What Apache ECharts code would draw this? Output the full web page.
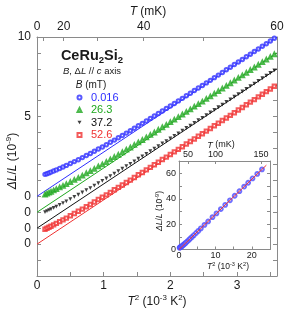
<!DOCTYPE html>
<html><head><meta charset="utf-8">
<script src="https://cdn.jsdelivr.net/npm/echarts@6/dist/echarts.min.js"></script>
<style>html,body{margin:0;padding:0;background:#fff}#c{width:295px;height:314px}</style>
</head><body><div id="c"></div>
<script>
// ---- main plot data: x = T^2 (10^-3 K^2), y = ΔL/L (10^-9), curves offset by 1 each
const T2 = [0.12,0.15,0.18,0.21,0.25,0.29,0.34,0.39,0.44,0.50,0.56,0.62,0.68,0.74,0.80,0.86,0.92,0.98,1.04,1.10,1.16,1.22,1.28,1.34,1.40,1.46,1.52,1.58,1.64,1.70,1.76,1.82,1.88,1.94,2.00,2.06,2.12,2.18,2.24,2.30,2.36,2.42,2.48,2.54,2.60,2.66,2.72,2.78,2.84,2.90,2.96,3.02,3.08,3.14,3.20,3.26,3.32,3.38,3.44,3.50,3.56];
const blueY = [1.38,1.42,1.47,1.52,1.59,1.66,1.75,1.84,1.94,2.06,2.18,2.30,2.43,2.56,2.69,2.83,2.97,3.10,3.24,3.39,3.53,3.68,3.82,3.97,4.12,4.27,4.43,4.58,4.73,4.89,5.04,5.20,5.36,5.52,5.67,5.83,5.99,6.15,6.31,6.47,6.64,6.80,6.96,7.12,7.28,7.45,7.61,7.77,7.94,8.10,8.27,8.43,8.59,8.76,8.92,9.09,9.25,9.42,9.58,9.75,9.92];
const greenY = [0.11,0.17,0.23,0.28,0.37,0.45,0.55,0.65,0.76,0.89,1.03,1.15,1.29,1.44,1.57,1.72,1.87,2.00,2.15,2.31,2.46,2.60,2.76,2.92,3.06,3.22,3.38,3.53,3.69,3.85,4.00,4.17,4.33,4.48,4.65,4.81,4.96,5.13,5.29,5.45,5.62,5.78,5.94,6.11,6.27,6.44,6.60,6.76,6.93,7.09,7.26,7.43,7.58,7.75,7.92,8.08,8.25,8.42,8.58,8.75,8.91];
const blackY = [-0.99,-0.93,-0.87,-0.81,-0.73,-0.64,-0.54,-0.43,-0.32,-0.18,-0.04,0.10,0.24,0.39,0.52,0.67,0.82,0.97,1.12,1.27,1.43,1.58,1.73,1.89,2.04,2.20,2.36,2.51,2.67,2.84,2.99,3.15,3.32,3.47,3.63,3.80,3.95,4.12,4.29,4.44,4.61,4.78,4.93,5.10,5.27,5.43,5.59,5.76,5.93,6.09,6.25,6.42,6.58,6.75,6.92,7.08,7.25,7.41,7.57,7.74,7.91];
const redY = [-2.07,-2.00,-1.94,-1.88,-1.79,-1.70,-1.59,-1.48,-1.37,-1.22,-1.08,-0.94,-0.80,-0.65,-0.51,-0.36,-0.20,-0.06,0.09,0.25,0.41,0.56,0.71,0.87,1.02,1.18,1.35,1.50,1.66,1.82,1.98,2.14,2.31,2.46,2.63,2.79,2.95,3.11,3.28,3.44,3.60,3.77,3.93,4.09,4.26,4.43,4.59,4.76,4.92,5.08,5.25,5.42,5.58,5.75,5.91,6.07,6.24,6.41,6.57,6.74,6.91];
// fit lines (T^2 law)
const fitX = [0, 3.6];
const blueFit = [0, 10.0];
const greenFit = [-1, 9.0];
const blackFit = [-2, 8.0];
const redFit = [-3, 7.0];
const fieldNames = ['0.016','26.3','37.2','52.6'];
// ---- inset data
const insetX = [0.15,0.25,0.4,0.6,0.8,1.0,1.3,1.6,1.9,2.3,2.7,3.1,3.6,4.1,4.7,5.3,6.0,7.0,8.0,9.2,10.3,11.5,12.7,14.0,15.3,16.6,17.9,19.0,20.2,21.5,22.8];
const insetY = [1.42,1.59,1.86,2.26,2.69,3.15,3.87,4.63,5.41,6.47,7.56,8.70,10.0,11.4,13.1,14.7,16.7,19.5,22.2,25.6,28.6,32.0,35.3,38.9,42.5,46.1,49.8,52.8,56.2,59.8,63.4];
const insetFitX = [0, 24];
const insetFitY = [0, 66.7];
// ---- tick labels
const mainBottomLabels = [0,1,2,3];
const mainBottomTicks = [0,0.5,1,1.5,2,2.5,3,3.5];
const mainTopTickT = [0,10,20,30,40,50,60];
const mainTopLabelT = [0,20,40,60];
const mainLeftLabelVals = [10,5,0,-1,-2,-3];
const mainLeftLabelText = ['10','5','0','0','0','0'];
const insetBottomLabels = [0,10,20];
const insetLeftLabels = [0,20,40,60];
const insetTopT = [50,100,150];

const FONT = '"Liberation Sans", Arial, sans-serif';
const AX = '#8a8a8a', TXT = '#1a1a1a';
const BLUE = '#2f2fff', GREEN = '#1fa81f', BLACK = '#111111', RED = '#f03232';
const t2 = T => T * T / 1000;
const zip = (xs, ys) => xs.map((x, i) => [x, ys[i]]);

function rt(parts, cx, cy, size, rot, bold) {
  const ctx = document.createElement('canvas').getContext('2d');
  const items = []; let w = 0;
  parts.forEach(p => {
    const txt = p[0], k = p[1] || '';
    const small = k.includes('u') || k.includes('d');
    const fs = small ? size * 0.66 : size;
    const st = k.includes('i') ? 'italic' : 'normal';
    const wt = bold ? 'bold' : 'normal';
    ctx.font = st + ' ' + wt + ' ' + fs + 'px ' + FONT;
    const tw = ctx.measureText(txt).width;
    const dy = k.includes('u') ? -size * 0.33 : (k.includes('d') ? size * 0.3 : 0);
    items.push({type:'text', x:w, y:dy, style:{text:txt, fontSize:fs, fontStyle:st, fontWeight:wt, fontFamily:FONT, fill:TXT, align:'left', verticalAlign:'middle'}});
    w += tw;
  });
  items.forEach(it => { it.x -= w / 2; });
  return {type:'group', x:cx, y:cy, rotation:rot || 0, children:items, z:50};
}

const tickStyle = {color: AX, width: 1};
function valAxis(o) {
  return Object.assign({
    type:'value', splitLine:{show:false},
    axisLine:{show:true, onZero:false, lineStyle:{color:AX, width:1}},
    axisTick:{show:true, inside:true, length:4, lineStyle:tickStyle},
    axisLabel:{show:false}
  }, o);
}
const lbl = (o) => Object.assign({show:true, color:TXT, fontFamily:FONT}, o);

const chart = echarts.init(document.getElementById('c'), null, {renderer:'canvas'});
const opt = {
  animation:false,
  backgroundColor:'#fff',
  grid:[
    {left:37, right:18, top:37, bottom:38},
    {left:179, width:91, top:161, height:88.5, show:true, backgroundColor:'#fff', borderWidth:0}
  ],
  xAxis:[
    valAxis({gridIndex:0, position:'bottom', min:0, max:3.6,
      axisTick:{show:true, inside:true, length:4, lineStyle:tickStyle, customValues:mainBottomTicks},
      axisLabel:lbl({fontSize:12, margin:4, customValues:mainBottomLabels, formatter:v=>String(Math.round(v))})}),
    valAxis({gridIndex:0, position:'top', min:0, max:3.6,
      axisTick:{show:true, inside:true, length:4, lineStyle:tickStyle, customValues:mainTopTickT.map(t2)},
      axisLabel:lbl({fontSize:12, margin:4, customValues:mainTopLabelT.map(t2), formatter:v=>String(Math.round(Math.sqrt(v*1000)))})}),
    valAxis({gridIndex:1, position:'bottom', min:0, max:25,
      axisTick:{show:true, inside:true, length:3, lineStyle:tickStyle, customValues:[0,5,10,15,20]},
      axisLabel:lbl({fontSize:9, margin:2, customValues:insetBottomLabels, formatter:v=>String(Math.round(v))})}),
    valAxis({gridIndex:1, position:'top', min:0, max:25,
      axisTick:{show:true, inside:true, length:3, lineStyle:tickStyle, customValues:insetTopT.map(t2)},
      axisLabel:lbl({fontSize:9, margin:2, customValues:insetTopT.map(t2), formatter:v=>String(Math.round(Math.sqrt(v*1000)))})})
  ],
  yAxis:[
    valAxis({gridIndex:0, position:'left', min:-5, max:10, interval:1,
      axisLabel:lbl({fontSize:12, margin:6, customValues:mainLeftLabelVals, formatter:v=>mainLeftLabelText[mainLeftLabelVals.indexOf(Math.round(v))]})}),
    valAxis({gridIndex:0, position:'right', min:-5, max:10, interval:1}),
    valAxis({gridIndex:1, position:'left', min:0, max:70, interval:10,
      axisTick:{show:true, inside:true, length:3, lineStyle:tickStyle},
      axisLabel:lbl({fontSize:9, margin:3, customValues:insetLeftLabels, formatter:v=>String(Math.round(v))})}),
    valAxis({gridIndex:1, position:'right', min:0, max:70, interval:10,
      axisTick:{show:true, inside:true, length:3, lineStyle:tickStyle}})
  ],
  legend:{
    orient:'vertical', left:71.5, top:87, itemWidth:4, itemHeight:4, itemGap:1.5,
    textStyle:{fontFamily:FONT, fontSize:11, padding:[0,0,0,4.5]},
    data:[
      {name:fieldNames[0], textStyle:{color:BLUE}},
      {name:fieldNames[1], textStyle:{color:GREEN}},
      {name:fieldNames[2], textStyle:{color:BLACK}, icon:'path://M0,0L10,0L5,9Z'},
      {name:fieldNames[3], textStyle:{color:RED}}
    ]
  },
  series:[
    {type:'line', xAxisIndex:0, yAxisIndex:0, data:zip(fitX, blueFit), showSymbol:false, lineStyle:{color:BLUE, width:1}, silent:true, z:1},
    {type:'line', xAxisIndex:0, yAxisIndex:0, data:zip(fitX, greenFit), showSymbol:false, lineStyle:{color:GREEN, width:1}, silent:true, z:1},
    {type:'line', xAxisIndex:0, yAxisIndex:0, data:zip(fitX, blackFit), showSymbol:false, lineStyle:{color:BLACK, width:1}, silent:true, z:1},
    {type:'line', xAxisIndex:0, yAxisIndex:0, data:zip(fitX, redFit), showSymbol:false, lineStyle:{color:RED, width:1}, silent:true, z:1},
    {name:fieldNames[0], type:'scatter', xAxisIndex:0, yAxisIndex:0, data:zip(T2, blueY), symbol:'emptyCircle', symbolSize:3.4, itemStyle:{color:BLUE, borderColor:BLUE, borderWidth:0.8}, z:2},
    {name:fieldNames[1], type:'scatter', xAxisIndex:0, yAxisIndex:0, data:zip(T2, greenY), symbol:'emptyTriangle', symbolSize:3.6, itemStyle:{color:GREEN, borderColor:GREEN, borderWidth:0.8}, z:2},
    {name:fieldNames[2], type:'scatter', xAxisIndex:0, yAxisIndex:0, data:zip(T2, blackY), symbol:'triangle', symbolRotate:180, symbolSize:3.8, itemStyle:{color:BLACK}, z:2},
    {name:fieldNames[3], type:'scatter', xAxisIndex:0, yAxisIndex:0, data:zip(T2, redY), symbol:'emptyRect', symbolSize:3.4, itemStyle:{color:RED, borderColor:RED, borderWidth:0.8}, z:2},
    {type:'scatter', xAxisIndex:2, yAxisIndex:2, data:zip(insetX, insetY), symbol:'emptyCircle', symbolSize:3.8, itemStyle:{color:'#4b4bff', borderColor:'#4b4bff', borderWidth:0.9}, z:8},
    {type:'line', xAxisIndex:2, yAxisIndex:2, data:zip(insetFitX, insetFitY), symbol:'none', showSymbol:false, clip:false, lineStyle:{color:RED, width:1}, silent:true, z:9}
  ],
  graphic:[
    rt([['T','i'],[' (mK)','']], 148, 12, 12),
    rt([['T','i'],['2','u'],[' (10',''],['-3','u'],[' K',''],['2','u'],[')','']], 157, 302, 12),
    rt([['ΔL','i'],['/',''],['L','i'],[' (10',''],['-9','u'],[')','']], 13, 161, 12, Math.PI/2),
    rt([['CeRu',''],['2','d'],['Si',''],['2','d']], 92, 56, 14.5, 0, true),
    rt([['B','i'],[', Δ',''],['L','i'],[' // ',''],['c','i'],[' axis','']], 92, 71, 9.5),
    rt([['B','i'],[' (mT)','']], 91, 85, 10),
    rt([['T','i'],[' (mK)','']], 221, 145, 9),
    rt([['T','i'],['2','u'],[' (10',''],['-3','u'],[' K',''],['2','u'],[')','']], 228, 267, 8.5),
    rt([['ΔL','i'],['/',''],['L','i'],[' (10',''],['-9','u'],[')','']], 160, 211, 8.5, Math.PI/2)
  ]
};
chart.setOption(opt);
</script></body></html>
